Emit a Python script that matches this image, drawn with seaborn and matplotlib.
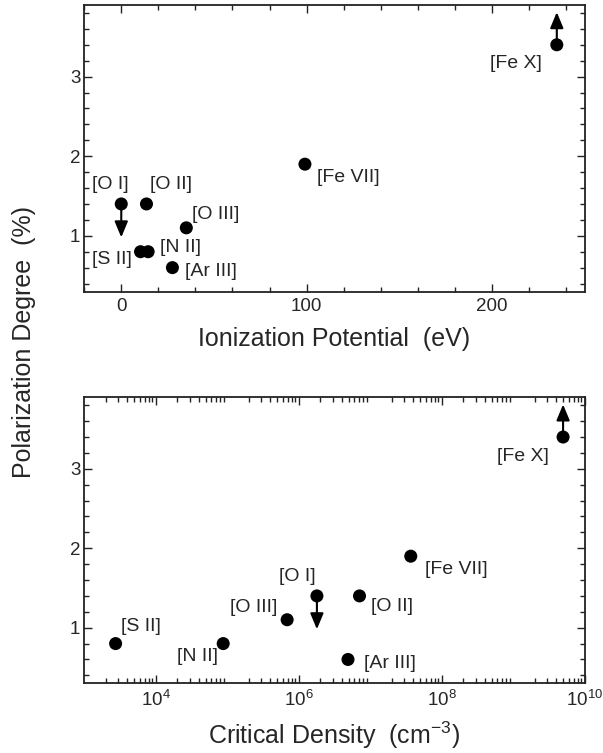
import matplotlib
matplotlib.use("Agg")
import matplotlib.pyplot as plt
import seaborn as sns
import pandas as pd
from matplotlib.ticker import MultipleLocator, LogLocator, NullFormatter

# ---- data ----
lines = ['[O I]', '[O II]', '[O III]', '[S II]', '[N II]', '[Ar III]', '[Fe VII]', '[Fe X]']
ion_potential = [0.0, 13.6, 35.1, 10.4, 14.5, 27.6, 99.1, 235.0]          # eV
crit_density = [1.8e6, 7.1e6, 6.9e5, 2.75e3, 8.8e4, 4.9e6, 3.7e7, 5.0e9]  # cm^-3
polarization = [1.4, 1.4, 1.1, 0.8, 0.8, 0.6, 1.9, 3.4]                   # %
limit_shift = [-0.42, 0, 0, 0, 0, 0, 0, 0.41]   # upper / lower limit arrows

df = pd.DataFrame({'line': lines, 'ip': ion_potential, 'nc': crit_density,
                   'pol': polarization, 'lim': limit_shift})

# ---- layout (label offsets in points, alignment) ----
top_offsets = {
    '[O I]': (-7.7, 13.9, 'center'), '[O II]': (2.2, 13.9, 'left'),
    '[O III]': (4.1, 9.6, 'left'), '[S II]': (-6.3, -5.8, 'right'),
    '[N II]': (8.2, 2.7, 'left'), '[Ar III]': (9.3, -2.7, 'left'),
    '[Fe VII]': (8.7, -9.8, 'left'), '[Fe X]': (-11.1, -13.5, 'right'),
}
bot_offsets = {
    '[S II]': (4.1, 12.0, 'left'), '[N II]': (-3.9, -9.6, 'right'),
    '[O III]': (-6.8, 9.1, 'right'), '[O I]': (-1.2, 13.7, 'right'),
    '[Ar III]': (11.7, -2.7, 'left'), '[O II]': (8.4, -7.9, 'left'),
    '[Fe VII]': (10.5, -9.9, 'left'), '[Fe X]': (-10.5, -13.7, 'right'),
}

sns.set_theme(style="ticks")
plt.rcParams['font.family'] = ['Liberation Sans', 'DejaVu Sans']
plt.rcParams['mathtext.fontset'] = 'custom'
plt.rcParams['mathtext.rm'] = 'Liberation Sans'
plt.rcParams['mathtext.it'] = 'Liberation Sans'
plt.rcParams['mathtext.default'] = 'regular'

fig = plt.figure(figsize=(6.03, 7.53), dpi=100)
W, H = 603, 753
ax1 = fig.add_axes([84.2 / W, 1 - 291.5 / H, 500.4 / W, 286.5 / H])
ax2 = fig.add_axes([84.2 / W, 1 - 683.3 / H, 500.4 / W, 286.0 / H])

LBL = 14
TICK = 13.5
AXL = 18


def draw(ax, xcol, offsets):
    sns.scatterplot(data=df, x=xcol, y='pol', ax=ax, color='black', s=88,
                    edgecolor='none', zorder=3, legend=False)
    for _, r in df.iterrows():
        if r['lim'] != 0:
            ax.annotate('', xy=(r[xcol], r['pol'] + r['lim']), xytext=(r[xcol], r['pol']),
                        arrowprops=dict(arrowstyle='-|>,head_length=0.6,head_width=0.25',
                                        mutation_scale=16, lw=1.5, color='black',
                                        shrinkA=0, shrinkB=0), zorder=2)
        dx, dy, ha = offsets[r['line']]
        ax.annotate(r['line'], (r[xcol], r['pol']), xytext=(dx, dy),
                    textcoords='offset points', ha=ha, va='center', fontsize=LBL)
    ax.set_ylim(0.3, 3.9)
    ax.yaxis.set_major_locator(MultipleLocator(1))
    ax.yaxis.set_minor_locator(MultipleLocator(0.2))
    ax.tick_params(which='both', direction='in', top=True, right=True,
                   labelsize=TICK, width=1.0, color='#222222')
    ax.tick_params(which='major', length=6)
    ax.tick_params(which='minor', length=3.5)
    ax.tick_params(axis='x', which='major', pad=4.5)
    ax.tick_params(axis='y', which='major', pad=2.8)
    for sp in ax.spines.values():
        sp.set_linewidth(1.3)
        sp.set_color('#222222')
    ax.set_ylabel('')


draw(ax1, 'ip', top_offsets)
ax1.set_xlim(-20, 250)
ax1.xaxis.set_major_locator(MultipleLocator(100))
ax1.xaxis.set_minor_locator(MultipleLocator(20))
ax1.set_xlabel('Ionization Potential  (eV)', fontsize=AXL, labelpad=9)

draw(ax2, 'nc', bot_offsets)
ax2.set_xscale('log')
ax2.xaxis.set_minor_locator(LogLocator(base=10, subs=tuple(range(2, 10)), numticks=100))
ax2.xaxis.set_minor_formatter(NullFormatter())
ax2.set_xticks([1e4, 1e6, 1e8, 1e10])
ax2.set_xticklabels(['$10^{4}$', '$10^{6}$', '$10^{8}$', '$10^{10}$'])
ax2.set_xlim(1e3, 1e10)
ax2.set_xlabel('Critical Density  (cm$^{\\mathregular{-3}}$)', fontsize=AXL, labelpad=7)

fig.text(24 / W, 1 - 342 / H, 'Polarization Degree  (%)', rotation=90,
         ha='center', va='center', fontsize=AXL)

fig.savefig('out.png', dpi=100)
